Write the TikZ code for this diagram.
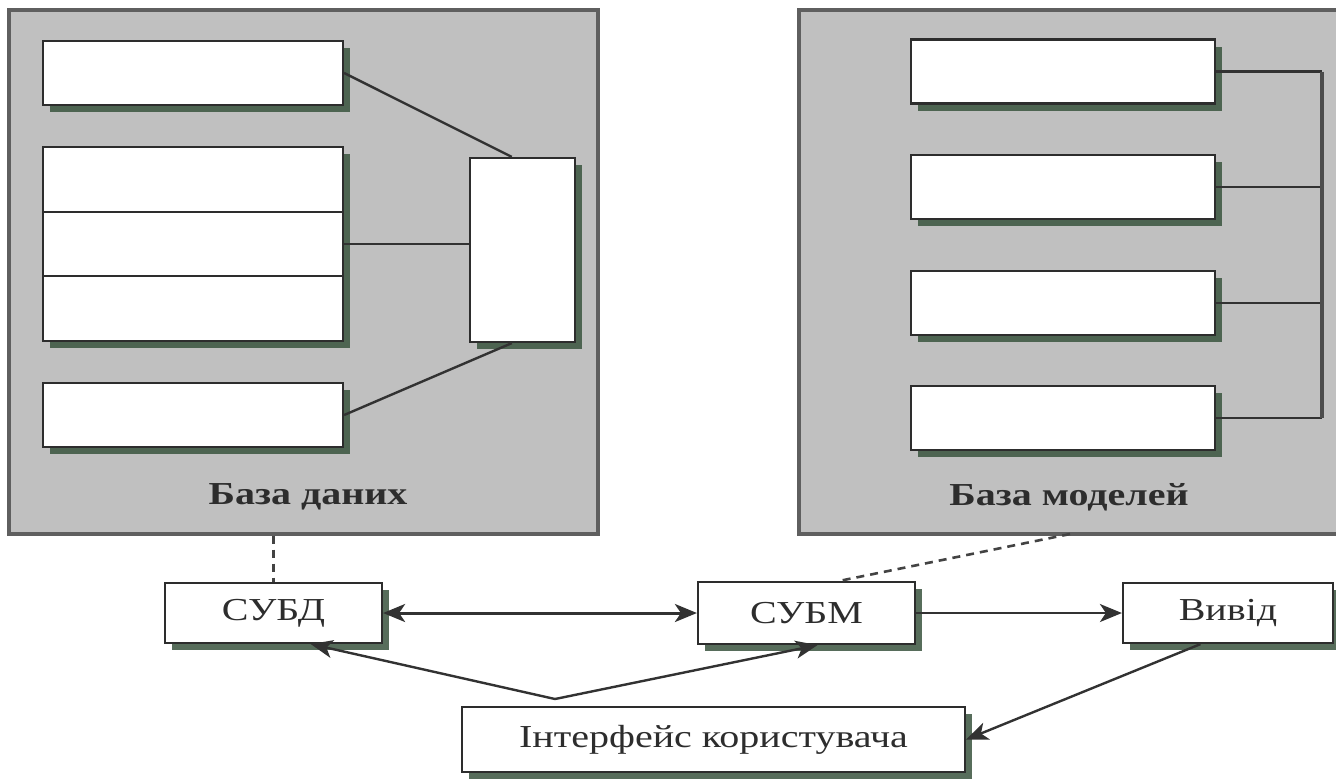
\documentclass[tikz,border=0pt]{standalone}
\usepackage{fontspec}
\setmainfont{Liberation Serif}
\usetikzlibrary{arrows.meta,calc,shadows}
\definecolor{panelfill}{RGB}{192,192,192}
\definecolor{panelborder}{RGB}{95,95,95}
\definecolor{boxborder}{RGB}{45,45,45}
\definecolor{shadowcol}{RGB}{58,84,62}
\definecolor{linecol}{RGB}{50,50,50}
\definecolor{textcol}{RGB}{45,45,45}
\newcommand{\widetext}[1]{\scalebox{1.25}[1]{#1}}
\begin{document}
\begin{tikzpicture}[x=0.5pt,y=-0.5pt,
  panel/.style={draw=panelborder, line width=1.6pt, fill=panelfill, inner sep=0pt},
  box/.style={draw=boxborder, line width=1.1pt, fill=white, inner sep=0pt,
    drop shadow={shadow xshift=3.5pt, shadow yshift=-3.5pt, fill=shadowcol, opacity=0.85}},
  txt/.style={text=textcol, font=\fontsize{16}{19}\selectfont},
  lbl/.style={text=textcol, font=\fontsize{16}{19}\selectfont\bfseries},
  conn/.style={draw=linecol, line width=1.2pt},
  bar/.style={draw=panelborder!80!black, line width=1.8pt},
  dashconn/.style={draw=panelborder!70!black, line width=1.3pt, dash pattern=on 4pt off 3pt},
  arrowtip/.tip={Stealth[length=11pt,width=9pt,inset=3pt,fill=linecol]},
  tip/.style={-arrowtip},
  bitip/.style={arrowtip-arrowtip}
]
\useasboundingbox (0,0) rectangle (1336,778);

% panels
\node[panel, minimum width=294.5pt, minimum height=262pt] (dbpanel) at (303.5,272) {};
\node[panel, minimum width=275.5pt, minimum height=262pt] (mbpanel) at (1074.5,272) {};

% database boxes
\node[box, minimum width=150pt, minimum height=32pt] (b1) at (193,73) {};
\node[box, minimum width=150pt, minimum height=32.33pt] (b2) at (193,179.3) {};
\node[box, minimum width=150pt, minimum height=32.33pt] (b3) at (193,244) {};
\node[box, minimum width=150pt, minimum height=32.33pt] (b4) at (193,308.7) {};
\node[box, minimum width=150pt, minimum height=32pt] (b5) at (193,415) {};
\node[box, minimum width=52.5pt, minimum height=92pt] (t) at (522.5,250) {};

\draw[conn] (b1.east) -- ($(t.north west)!0.4!(t.north east)$);
\draw[conn] (b3.east) -- (b3.east -| t.west);
\draw[conn] (b5.east) -- ($(t.south west)!0.4!(t.south east)$);

\node[lbl] (dblabel) at (308,497) {\widetext{База даних}};

% model boxes
\node[box, minimum width=152pt, minimum height=32pt] (m1) at (1063,71.5) {};
\node[box, minimum width=152pt, minimum height=32pt] (m2) at (1063,187) {};
\node[box, minimum width=152pt, minimum height=32pt] (m3) at (1063,303) {};
\node[box, minimum width=152pt, minimum height=32pt] (m4) at (1063,418) {};
\coordinate (br) at (1322,0);
\draw[conn] (m1.east) -- (m1.east -| br);
\draw[conn] (m2.east) -- (m2.east -| br);
\draw[conn] (m3.east) -- (m3.east -| br);
\draw[conn] (m4.east) -- (m4.east -| br);
\draw[bar] (m1.east -| br) -- (m4.east -| br);

\node[lbl] (mblabel) at (1069,497) {\widetext{База моделей}};

% bottom row
\node[box, txt, minimum width=108.5pt, minimum height=30pt] (subd) at (273.5,613) {\widetext{СУБД}};
\node[box, txt, minimum width=108.5pt, minimum height=31pt] (subm) at (806.5,613) {\widetext{СУБМ}};
\node[box, txt, minimum width=105pt, minimum height=30pt] (vyvid) at (1228,613) {\widetext{Вивід}};
\node[box, txt, minimum width=251.5pt, minimum height=32.5pt] (iface) at (713.5,739.5) {\widetext{Інтерфейс користувача}};

% dashed links
\draw[dashconn] (dbpanel.south -| subd.north) -- (subd.north);
\coordinate (mbfoot) at (1070,534);
\draw[dashconn] (mbfoot) -- ($(subm.north west)!0.65!(subm.north east)$);

% arrows
\draw[conn, line width=1.5pt, bitip] (subd.east) -- (subm.west);
\draw[conn, tip] (subm.east) -- (vyvid.west);
\coordinate (apex) at (555,699);
\draw[conn, tip] (apex) -- ($(subd.south west)!0.67!(subd.south east)$);
\draw[conn, tip] (apex) -- ($(subm.south west)!0.55!(subm.south east)$);
\draw[conn, tip] ($(vyvid.south west)!0.37!(vyvid.south east)$) -- (iface.east);
\end{tikzpicture}
\end{document}
